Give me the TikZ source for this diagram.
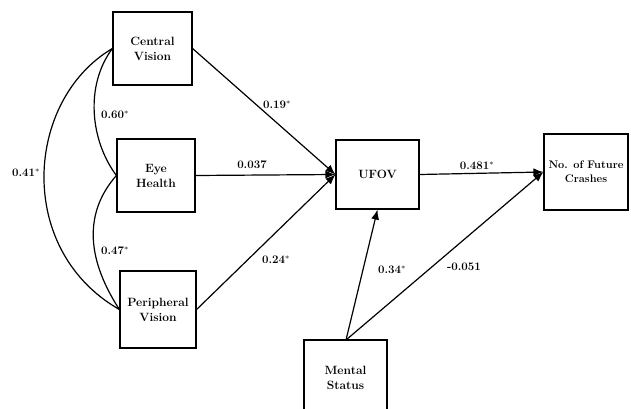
\documentclass[tikz,border=0pt]{standalone}
\usetikzlibrary{arrows.meta}
\begin{document}
\begin{tikzpicture}[x=1pt,y=-1pt,>={Latex[length=10pt,width=8pt]},
        var/.style={draw,line width=1.2pt,align=center,inner sep=0pt,font=\fontsize{12}{15}\selectfont\bfseries},
        link/.style={line width=1.2pt},
        coef/.style={inner sep=0pt,font=\fontsize{11.5}{14}\selectfont\bfseries}]
    \useasboundingbox (0,0) rectangle (631,409);
    % variables
    \node[var,minimum width=79pt,minimum height=73pt] (central) at (152.5,48.5) {Central\\Vision};
    \node[var,minimum width=78pt,minimum height=73pt] (eye) at (156,175.5) {Eye\\Health};
    \node[var,minimum width=76pt,minimum height=77pt] (periph) at (158,309.5) {Peripheral\\Vision};
    \node[var,minimum width=83pt,minimum height=69pt] (ufov) at (377.5,174.5) {UFOV};
    \node[var,minimum width=84pt,minimum height=76pt,font=\fontsize{11}{14}\selectfont\bfseries] (crash) at (586,172) {No. of Future\\Crashes};
    \node[var,minimum width=83pt,minimum height=75pt] (mental) at (345.5,377.5) {Mental\\Status};
    % correlations
    \draw[link] (central.west) .. controls (85,85) and (90,140) .. (eye.west);
    \draw[link] (eye.west) .. controls (86,210) and (84,255) .. (periph.west);
    \draw[link] (central.west) .. controls (25,100) and (15,250) .. (periph.west);
    \node[coef] (r-ce) at (115,115) {0.60$^*$};
    \node[coef] (r-ep) at (115,251) {0.47$^*$};
    \node[coef] (r-cp) at (26,173) {0.41$^*$};
    % paths
    \draw[link,->] (central.east) -- (ufov.west);
    \draw[link,->] (eye.east) -- (ufov.west);
    \draw[link,->] (periph.east) -- (ufov.west);
    \draw[link,->] (ufov.east) -- (crash.west);
    \coordinate (mental-top) at (346,340);
    \draw[link,->] (mental-top) -- (ufov.south);
    \draw[link,->] (mental-top) -- (crash.west);
    \node[coef] (b-cu) at (277,105) {0.19$^*$};
    \node[coef] (b-eu) at (252,165) {0.037};
    \node[coef] (b-pu) at (276,260) {0.24$^*$};
    \node[coef] (b-uc) at (477,166) {0.481$^*$};
    \node[coef] (b-mu) at (392,270) {0.34$^*$};
    \node[coef] (b-mc) at (464,267) {-0.051};
\end{tikzpicture}
\end{document}
